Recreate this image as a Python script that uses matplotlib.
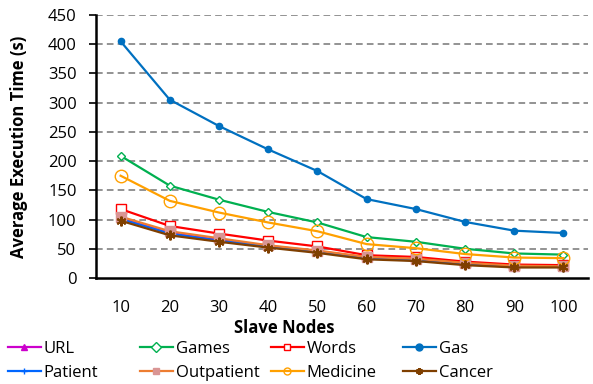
import numpy as np
import matplotlib
matplotlib.use("Agg")
import matplotlib.pyplot as plt

plt.rcParams['font.family'] = ['Open Sans', 'DejaVu Sans']

nodes = [10, 20, 30, 40, 50, 60, 70, 80, 90, 100]

url = [102, 77, 65, 55, 46, 35, 31, 25, 20, 19]
games = [209, 158, 134, 113, 95, 70, 62, 50, 42, 40]
words = [118, 89, 76, 64, 54, 39, 36, 28, 23, 22]
gas = [405, 305, 260, 220, 183, 135, 118, 96, 81, 77]
patient = [101, 76, 64, 54, 45, 34, 30, 24, 19, 19]
outpatient = [105, 80, 68, 56, 47, 36, 33, 26, 21, 20]
medicine = [175, 132, 112, 95, 80, 58, 51, 41, 35, 34]
cancer = [98, 73, 62, 52, 43, 32, 29, 22, 18, 18]

series = [
    ("URL", url, dict(color="#CC00CC", marker="^", ms=5, mfc="#CC00CC", mec="#CC00CC")),
    ("Games", games, dict(color="#00B050", marker="D", ms=4.5, mfc="white", mec="#00B050")),
    ("Words", words, dict(color="#FF0000", marker="s", ms=7, mfc="white", mec="#FF0000")),
    ("Gas", gas, dict(color="#0070C0", marker="o", ms=4.5, mfc="#0070C0", mec="#0070C0")),
    ("Patient", patient, dict(color="#0066FF", marker="+", ms=7, mfc="#0066FF", mec="#0066FF")),
    ("Outpatient", outpatient, dict(color="#ED7D31", marker="s", ms=7, mfc="#D99594", mec="#D99594")),
    ("Medicine", medicine, dict(color="#FFA000", marker="o", ms=9, mfc="none", mec="#FFA000")),
    ("Cancer", cancer, dict(color="#7F3F00", marker=(6, 2, 0), ms=7, mfc="#7F3F00", mec="#7F3F00", mew=1.5)),
]

fs = 12

fig = plt.figure(figsize=(5.93, 3.84), dpi=100)
ax = fig.add_axes([96/593, 1-278/384, 492/593, 263/384])

x = np.arange(len(nodes))
lines = []
for name, vals, style in series:
    ln, = ax.plot(x, vals, lw=1.6, label=name, **style)
    lines.append(ln)

ax.set_xlim(-0.5, len(nodes) - 0.5)
ax.set_ylim(0, 450)
ax.set_yticks(np.arange(0, 451, 50))
ax.set_xticks(x)
ax.set_xticklabels([str(n) for n in nodes])

for v in range(50, 451, 50):
    ax.axhline(v, color="#808080", lw=1.2, ls=(0, (4, 2.5)), zorder=0)

for s in ["top", "right"]:
    ax.spines[s].set_visible(False)
ax.spines["left"].set_linewidth(1.8)
ax.spines["bottom"].set_linewidth(1.8)
ax.tick_params(axis="y", length=5, width=1.2, color="black", pad=9, labelsize=fs)
ax.tick_params(axis="x", length=0, pad=16, labelsize=fs)

ax.set_ylabel("Average Execution Time (s)", fontsize=fs, fontweight="bold")
ax.yaxis.set_label_coords(-(96 - 28) / 492, 0.5)
fig.text(284/593, 1-328/384, "Slave Nodes", ha="center", va="center",
         fontsize=fs, fontweight="bold")

# four legend columns, evenly spaced across the figure
col_x = [8, 140, 271, 403]
for i, cx in enumerate(col_x):
    pair = [lines[i], lines[i + 4]]
    leg = fig.legend(pair, [l.get_label() for l in pair], loc="center left",
                     bbox_to_anchor=(cx/593, 1-361/384), frameon=False,
                     fontsize=fs, handlelength=1.95, handletextpad=0.2,
                     labelspacing=0.5, borderpad=0, borderaxespad=0)
    for h in leg.legend_handles:
        h.set_markersize(5)

fig.savefig("out.png", dpi=100)
